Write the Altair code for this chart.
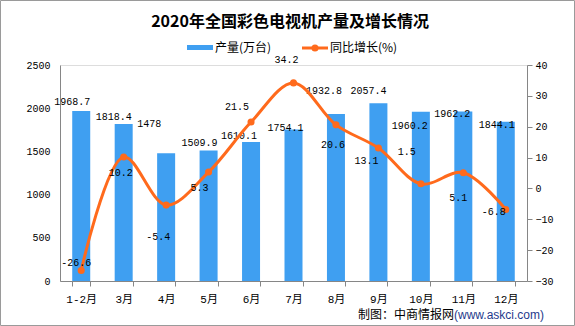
import altair as alt
import pandas as pd

# ---- data ----
months = ["1-2月", "3月", "4月", "5月", "6月", "7月", "8月", "9月", "10月", "11月", "12月"]
output = [1968.7, 1818.4, 1478, 1509.9, 1610.1, 1754.1, 1932.8, 2057.4, 1960.2, 1962.2, 1844.1]
growth = [-26.6, 10.2, -5.4, 5.3, 21.5, 34.2, 20.6, 13.1, 1.5, 5.1, -6.8]
output_labels = ["1968.7", "1818.4", "1478", "1509.9", "1610.1", "1754.1", "1932.8", "2057.4", "1960.2", "1962.2", "1844.1"]
growth_labels = ["-26.6", "10.2", "-5.4", "5.3", "21.5", "34.2", "20.6", "13.1", "1.5", "5.1", "-6.8"]
left_ticks = [0, 500, 1000, 1500, 2000, 2500]
right_ticks = [-30, -20, -10, 0, 10, 20, 30, 40]

# ---- label placement (style, pixels) ----
bar_lab_dx = [0, -1, -8, 0, -3, 1, -3, -1, -2, -2, 0]
bar_lab_dy = [-9, -7, -29, -8, -6, -1, -23, -12, 14, 3, 3]
line_lab_dx = [4, 6, 1, 0, -5, 2, 6, -3, -5, 4, -3]
line_lab_dy = [-8, 16, 32, 16, -15, -23, 20, 13, -32, 25, 3]

PLOT_W, PLOT_H = 467, 216
LEFT_MAX = 2500
RIGHT_MIN, RIGHT_MAX = -30, 40

BLUE = "#3f9ff1"
ORANGE = "#ff6a1c"
GRAY = "#868686"
MONO = "Liberation Mono, Noto Sans CJK SC"
CJK = "Noto Sans CJK SC"

df = pd.DataFrame({
    "month": months, "output": output, "growth": growth,
    "olab": output_labels, "glab": growth_labels,
    "bdx": bar_lab_dx, "bdy": bar_lab_dy, "ldx": line_lab_dx, "ldy": line_lab_dy,
})

xenc = alt.X("month:N", sort=months, title=None,
             scale=alt.Scale(type="band", paddingInner=0.576, paddingOuter=0.288),
             axis=alt.Axis(labelAngle=0, tickBand="extent", tickSize=5, tickColor=GRAY,
                           domainColor=GRAY, labelPadding=7, labelFont=MONO,
                           labelFontSize=11, labelColor="#000000", grid=False))

base = alt.Chart(df)

yl_scale = alt.Scale(domain=[0, LEFT_MAX], nice=False, zero=True)
yl_axis = alt.Axis(orient="left", values=left_ticks, ticks=False, format="d", labelOverlap=False,
                   domainColor=GRAY, labelPadding=10, labelFont=MONO, labelFontSize=10,
                   labelColor="#000000", grid=False)
bars = base.mark_bar(color=BLUE).encode(
    x=xenc,
    y=alt.Y("output:Q", title=None, scale=yl_scale, axis=yl_axis),
)
bar_text = base.transform_calculate(
    ly=f"datum.output - datum.bdy * {LEFT_MAX} / {PLOT_H}"
).mark_text(font=MONO, fontSize=10, color="#000000", baseline="middle").encode(
    x=xenc,
    xOffset=alt.XOffset("bdx:Q", scale=None),
    y=alt.Y("ly:Q", title=None, scale=yl_scale, axis=yl_axis),
    text="olab:N",
)
left = alt.layer(bars, bar_text)

yr_scale = alt.Scale(domain=[RIGHT_MIN, RIGHT_MAX], nice=False, zero=False)
yr_axis = alt.Axis(orient="right", values=right_ticks, tickSize=5, labelOverlap=False,
                   tickColor=GRAY, domainColor=GRAY, labelPadding=3, labelFont=MONO,
                   labelFontSize=10, labelColor="#000000", grid=False)
yr = alt.Y("growth:Q", title=None, scale=yr_scale, axis=yr_axis)
line = base.mark_line(color=ORANGE, strokeWidth=3, interpolate="catmull-rom").encode(x=xenc, y=yr)
pts = base.mark_point(color=ORANGE, filled=True, size=50, opacity=1).encode(x=xenc, y=yr)
line_text = base.transform_calculate(
    gy=f"datum.growth - datum.ldy * {RIGHT_MAX - RIGHT_MIN} / {PLOT_H}"
).mark_text(font=MONO, fontSize=10, color="#000000", baseline="middle").encode(
    x=xenc,
    xOffset=alt.XOffset("ldx:Q", scale=None),
    y=alt.Y("gy:Q", title=None, scale=yr_scale, axis=yr_axis),
    text="glab:N",
)
right = alt.layer(line, pts, line_text)

one = alt.Data(values=[{"k": 1}])
deco = []
# title
deco.append(alt.Chart(one).mark_text(text="2020年全国彩色电视机产量及增长情况", font=CJK, fontSize=16,
                                     fontWeight="bold", color="#000000", align="center", baseline="middle")
            .encode(x=alt.value(230), y=alt.value(-43)))
# legend
deco.append(alt.Chart(one).mark_rect(color=BLUE)
            .encode(x=alt.value(127), x2=alt.value(153), y=alt.value(-20), y2=alt.value(-15)))
deco.append(alt.Chart(one).mark_text(text="产量(万台)", font=CJK, fontSize=12, color="#000000",
                                     align="left", baseline="middle")
            .encode(x=alt.value(155), y=alt.value(-17)))
deco.append(alt.Chart(one).mark_rule(color=ORANGE, strokeWidth=3)
            .encode(x=alt.value(242), x2=alt.value(268), y=alt.value(-17)))
deco.append(alt.Chart(one).mark_point(color=ORANGE, filled=True, size=50, opacity=1)
            .encode(x=alt.value(255), y=alt.value(-17)))
deco.append(alt.Chart(one).mark_text(text="同比增长(%)", font=CJK, fontSize=12, color="#000000",
                                     align="left", baseline="middle")
            .encode(x=alt.value(270), y=alt.value(-17)))
# footer
deco.append(alt.Chart(one).mark_text(text="制图：中商情报网", font=CJK, fontSize=12, color="#000000",
                                     align="left", baseline="middle")
            .encode(x=alt.value(298), y=alt.value(250)))
deco.append(alt.Chart(one).mark_text(text="(www.askci.com)", font="Liberation Sans", fontSize=12,
                                     color="#1f3a8c", align="left", baseline="middle")
            .encode(x=alt.value(394), y=alt.value(250)))
# border
deco.append(alt.Chart(one).mark_rect(fillOpacity=0, stroke="#9a9a9a", strokeWidth=1)
            .encode(x=alt.value(-59.5), x2=alt.value(514.5), y=alt.value(-64.5), y2=alt.value(260.5)))

chart = alt.layer(left, right, *deco).resolve_scale(y="independent").properties(
    width=PLOT_W, height=PLOT_H,
    autosize=alt.AutoSizeParams(type="none"),
    padding={"left": 60, "top": 65, "right": 48, "bottom": 45},
).configure_view(stroke=None).configure(background="white")

chart.save("out.html", embed_options={"renderer": "svg", "actions": False})
